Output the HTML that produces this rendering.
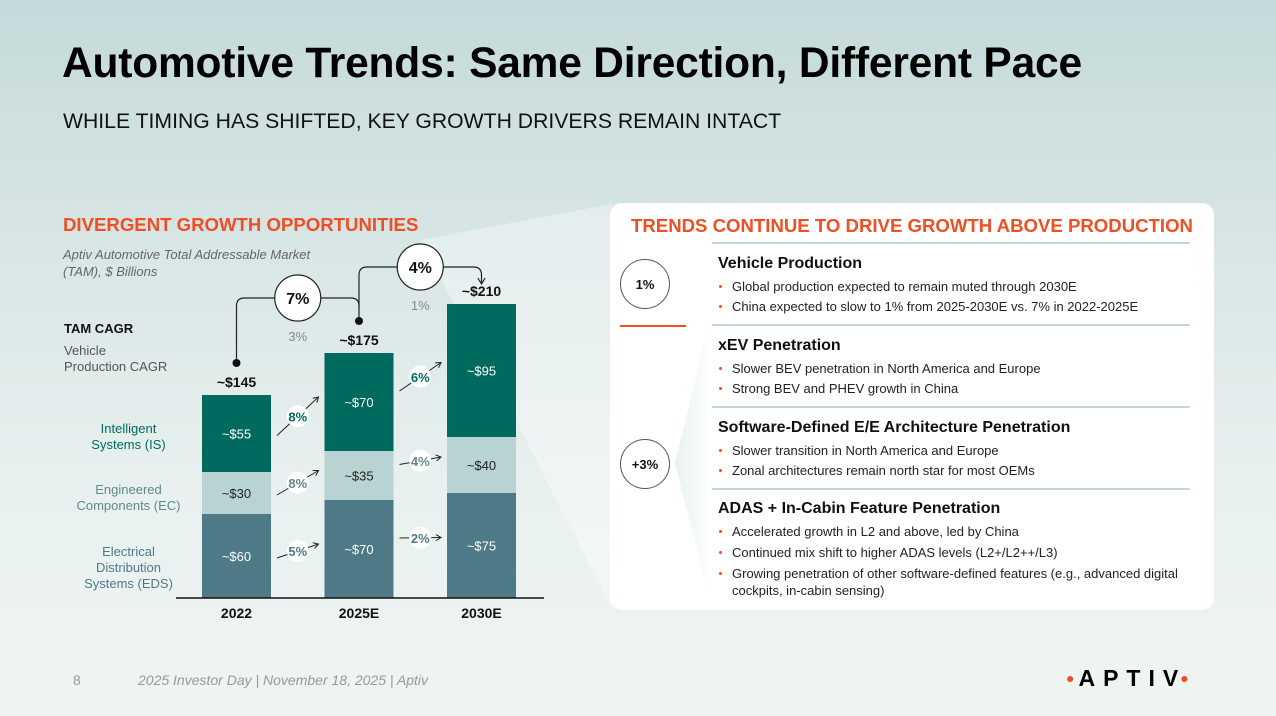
<!DOCTYPE html>
<html><head><meta charset="utf-8">
<style>
*{margin:0;padding:0;box-sizing:border-box}
body{width:1276px;height:716px;overflow:hidden;font-family:"Liberation Sans",Arial,sans-serif;position:relative;background:linear-gradient(180deg,#c5dada 0%,#d8e6e5 35%,#e9f1f0 70%,#eef4f3 100%)}
.abs{position:absolute}
h1{position:absolute;left:62px;top:40px;font-size:42.5px;font-weight:bold;color:#000;letter-spacing:-0.2px;white-space:nowrap}
.sub{left:63px;top:110px;font-size:21.2px;color:#111;white-space:nowrap}
.or{color:#f04e23;font-weight:bold;font-size:18.6px;white-space:nowrap}
.panel{left:610px;top:203px;width:604px;height:407px;background:#fff;border-radius:12px}
.sec{left:718px;font-size:16px;font-weight:bold;color:#111}
.bl{left:732px;font-size:13px;color:#222;line-height:17px}
.bl::before{content:"";position:absolute;left:-13px;top:7px;width:3px;height:3px;border-radius:2px;background:#f04e23}
.sep{left:712px;width:478px;height:2px;background:#c4d8d7}
.circ{width:50px;height:50px;border:1.3px solid #555;border-radius:50%;display:flex;align-items:center;justify-content:center;font-size:13px;font-weight:bold;color:#111;background:#fff}
</style></head><body>
<svg class="abs" style="left:0;top:0" width="1276" height="716"><polygon points="420,240 612,204 612,610 516,420" fill="#ffffff" opacity="0.35"/></svg>
<h1>Automotive Trends: Same Direction, Different Pace</h1>
<div class="abs sub">WHILE TIMING HAS SHIFTED, KEY GROWTH DRIVERS REMAIN INTACT</div>
<div class="abs or" style="left:63px;top:214px">DIVERGENT GROWTH OPPORTUNITIES</div>
<div class="abs" style="left:63px;top:246px;font-size:13px;font-style:italic;color:#666;line-height:17px">Aptiv Automotive Total Addressable Market<br>(TAM), $ Billions</div>
<div class="abs" style="left:64px;top:321px;font-size:13px;font-weight:bold;color:#111">TAM CAGR</div>
<div class="abs" style="left:64px;top:343px;font-size:13px;color:#555;line-height:16px">Vehicle<br>Production CAGR</div>
<div class="abs" style="left:60px;top:421px;width:137px;text-align:center;font-size:13px;color:#006a5e;line-height:16px">Intelligent<br>Systems (IS)</div>
<div class="abs" style="left:60px;top:482px;width:137px;text-align:center;font-size:13px;color:#5f8a88;line-height:16px">Engineered<br>Components (EC)</div>
<div class="abs" style="left:60px;top:544px;width:137px;text-align:center;font-size:13px;color:#4e7a87;line-height:16px">Electrical<br>Distribution<br>Systems (EDS)</div>

<svg id="chart" class="abs" style="left:0;top:0" width="1276" height="716"></svg>

<div class="abs panel"></div>
<svg class="abs" style="left:0;top:0" width="1276" height="716"><defs><linearGradient id="wg" x1="0" x2="1"><stop offset="0" stop-color="#dbe8e7"/><stop offset="1" stop-color="#fff"/></linearGradient></defs><polygon points="708,327 675,463 712,610 712,327" fill="url(#wg)" opacity="0.6"/></svg>
<div class="abs or" style="left:631px;top:215px">TRENDS CONTINUE TO DRIVE GROWTH ABOVE PRODUCTION</div>
<div class="abs sep" style="top:242px"></div>
<div class="abs sep" style="top:324px"></div>
<div class="abs sep" style="top:406px"></div>
<div class="abs sep" style="top:488px"></div>
<div class="abs" style="left:620px;top:325px;width:66px;height:2px;background:#f04e23"></div>
<div class="abs circ" style="left:620px;top:259px">1%</div>
<div class="abs circ" style="left:620px;top:439px">+3%</div>

<div class="abs sec" style="top:255px">Vehicle Production</div>
<div class="abs bl" style="top:278px">Global production expected to remain muted through 2030E</div>
<div class="abs bl" style="top:298px">China expected to slow to 1% from 2025-2030E vs. 7% in 2022-2025E</div>
<div class="abs sec" style="top:337px">xEV Penetration</div>
<div class="abs bl" style="top:360px">Slower BEV penetration in North America and Europe</div>
<div class="abs bl" style="top:380px">Strong BEV and PHEV growth in China</div>
<div class="abs sec" style="top:419px">Software-Defined E/E Architecture Penetration</div>
<div class="abs bl" style="top:442px">Slower transition in North America and Europe</div>
<div class="abs bl" style="top:462px">Zonal architectures remain north star for most OEMs</div>
<div class="abs sec" style="top:500px">ADAS + In-Cabin Feature Penetration</div>
<div class="abs bl" style="top:523px">Accelerated growth in L2 and above, led by China</div>
<div class="abs bl" style="top:544px">Continued mix shift to higher ADAS levels (L2+/L2++/L3)</div>
<div class="abs bl" style="top:565px;width:470px">Growing penetration of other software-defined features (e.g., advanced digital cockpits, in-cabin sensing)</div>

<div class="abs" style="left:73px;top:672px;font-size:14px;color:#999">8</div>
<div class="abs" style="left:138px;top:672px;font-size:14px;font-style:italic;color:#999">2025 Investor Day | November 18, 2025 | Aptiv</div>
<div class="abs" style="left:1066px;top:665px;font-size:23px;font-weight:bold;letter-spacing:8px;color:#000"><span style="color:#f04e23;font-size:14px;letter-spacing:4px;vertical-align:3px">●</span>APTIV<span style="color:#f04e23;font-size:14px;vertical-align:3px;margin-left:-6px">●</span></div>

<script>
const categories=["2022","2025E","2030E"];
const eds=[60,70,75];
const ec=[30,35,40];
const is=[55,70,95];
const totals=["~$145","~$175","~$210"];
const edsCagr=["5%","2%"];
const ecCagr=["8%","4%"];
const isCagr=["8%","6%"];
const tamCagr=["7%","4%"];
const vehCagr=["3%","1%"];
const NS="http://www.w3.org/2000/svg";
const svg=document.getElementById('chart');
const base=598, k=1.4, bw=69;
const xs=i=>202+i*122.5;
const y=v=>base-v*k;
function mk(t,a,parent){const e=document.createElementNS(NS,t);for(const n in a)e.setAttribute(n,a[n]);(parent||svg).appendChild(e);return e;}
function txt(x,yy,s,o){const e=mk('text',Object.assign({x:x,y:yy,'text-anchor':'middle','font-family':'Liberation Sans, Arial, sans-serif','font-size':13},o));e.textContent=s;return e;}
mk('defs',{}).innerHTML='<marker id="ar" markerWidth="8" markerHeight="8" refX="6" refY="4" orient="auto"><path d="M1,1 L6,4 L1,7" fill="none" stroke="#222" stroke-width="1"/></marker>';
const series=[[eds,'#4e7a87','#fff','eds'],[ec,'#b8d3d1','#222','ec'],[is,'#006a5e','#fff','is']];
categories.forEach((c,i)=>{
 let acc=0;
 series.forEach(([arr,col,tc,nm])=>{
  const r=mk('rect',{x:xs(i),y:y(acc+arr[i]),width:bw,height:arr[i]*k,fill:col});
  
  
  const t=txt(xs(i)+bw/2,y(acc+arr[i]/2)+5,'~$'+arr[i],{fill:tc});
  
  
  acc+=arr[i];
 });
 const tt=txt(xs(i)+bw/2,y(acc)-8,totals[i],{'font-weight':'bold','font-size':14,fill:'#111'});
 
 
 const xl=txt(xs(i)+bw/2,base+20,c,{'font-weight':'bold','font-size':14,fill:'#111'});
 
 
});
const ax=mk('line',{x1:176,y1:base,x2:544,y2:base,stroke:'#111','stroke-width':1.5});


function cagr(i,mid0,mid1,s,col){
 const x0=xs(i)+bw+6,x1=xs(i+1)-6;
 const y0=y(mid0)+(i==0?2:-11), y1=y(mid1)+(i==0?-5:-8);
 mk('line',{x1:x0,y1:y0,x2:x1,y2:y1,stroke:'#222','stroke-width':1,'marker-end':'url(#ar)'});
 const cx=(x0+x1)/2,cy=(y0+y1)/2;
 mk('circle',{cx:cx,cy:cy,r:11,fill:'#fff'});
 const t=txt(cx,cy+5,s,{'font-weight':'bold',fill:col});
 
 
}
[0,1].forEach(i=>{
 cagr(i,eds[i]/2,eds[i+1]/2,edsCagr[i],'#4e7a87');
 cagr(i,eds[i]+ec[i]/2,eds[i+1]+ec[i+1]/2,ecCagr[i],'#5f8a88');
 cagr(i,eds[i]+ec[i]+is[i]/2,eds[i+1]+ec[i+1]+is[i+1]/2,isCagr[i],'#006a5e');
});
[0,1].forEach(i=>{
 const t0=eds[i]+ec[i]+is[i], t1=eds[i+1]+ec[i+1]+is[i+1];
 const xa=xs(i)+bw/2, xb=xs(i+1)+bw/2;
 const ya=y(t0)-32, top=i==0?y(t1)-55:y(t0)-86;
 const yb=i==0?y(t1)-45:y(t1)-20;
 mk('path',{d:`M${xa},${ya} V${top+8} Q${xa},${top} ${xa+8},${top} H${xb-8} Q${xb},${top} ${xb},${top+8} V${yb}`,fill:'none',stroke:'#222','stroke-width':1.2,'marker-end':i==1?'url(#ar)':''});
 mk('circle',{cx:xa,cy:ya,r:4,fill:'#111'});
 const cx=(xa+xb)/2;
 mk('circle',{cx:cx,cy:top,r:23,fill:'#fff',stroke:'#222','stroke-width':1.2});
 const t=txt(cx,top+6,tamCagr[i],{'font-weight':'bold','font-size':16,fill:'#111'});
 
 
 const v=txt(cx,top+43,vehCagr[i],{fill:'#888'});
 
 
});
</script>
</body></html>
